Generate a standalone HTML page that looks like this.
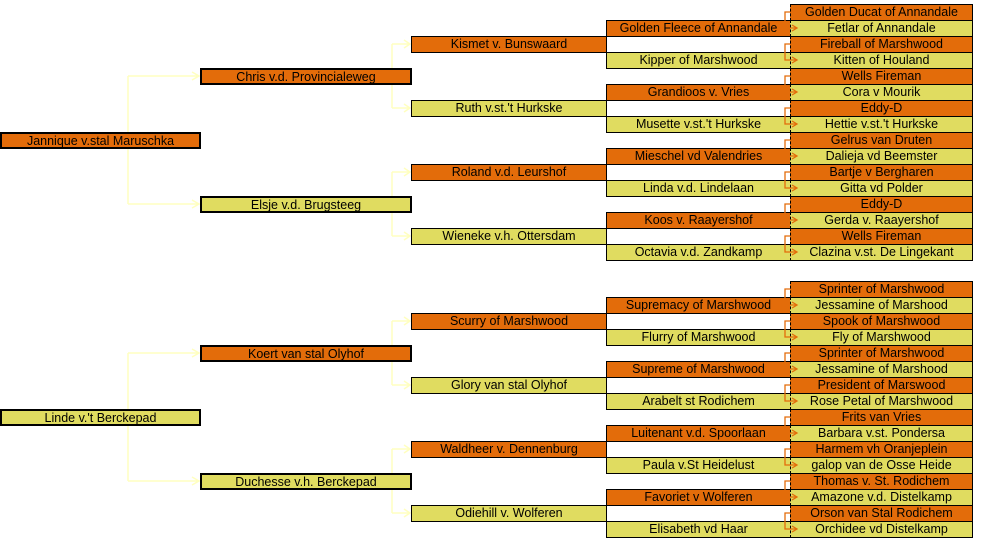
<!DOCTYPE html>
<html><head><meta charset="utf-8"><style>
body{margin:0;background:#fff;width:986px;height:542px;overflow:hidden;position:relative;font-family:"Liberation Sans",sans-serif;}
.b{position:absolute;box-sizing:border-box;height:17px;border:1px solid #000;font-size:12.5px;line-height:15px;text-align:center;white-space:nowrap;overflow:hidden;color:#000;}
.o{background:#e36c0a;}.y{background:#e0dc60;}
.g0{left:0;width:201px;border-width:2px;line-height:14px;}
.g1{left:200px;width:212px;border-width:2px;line-height:14px;}
.g2{left:411px;width:196px;}
.g3{left:606px;width:185px;}
.g4{left:790px;width:183px;border-left:1px dashed #000;}
svg{position:absolute;left:0;top:0;}
</style></head><body>
<svg width="986" height="542" style="z-index:0">
<g stroke="#ffffc0" stroke-width="1.5" fill="none">
<path d="M128 76V204M128 76H199M128 204H199M192 72L199 76L192 80M192 200L199 204L192 208"/>
<path d="M128 353V481M128 353H199M128 481H199M192 349L199 353L192 357M192 477L199 481L192 485"/>
<path d="M392 44V108M392 44H410M392 108H410M404 40L410 44L404 48M404 104L410 108L404 112"/>
<path d="M392 172V236M392 172H410M392 236H410M404 168L410 172L404 176M404 232L410 236L404 240"/>
<path d="M392 321V385M392 321H410M392 385H410M404 317L410 321L404 325M404 381L410 385L404 389"/>
<path d="M392 449V513M392 449H410M392 513H410M404 445L410 449L404 453M404 509L410 513L404 517"/>
</g></svg>

<div class="b g0 o" style="top:132px">Jannique v.stal Maruschka</div>
<div class="b g1 o" style="top:68px">Chris v.d. Provincialeweg</div>
<div class="b g1 y" style="top:196px">Elsje v.d. Brugsteeg</div>
<div class="b g2 o" style="top:36px">Kismet v. Bunswaard</div>
<div class="b g2 y" style="top:100px">Ruth v.st.'t Hurkske</div>
<div class="b g2 o" style="top:164px">Roland v.d. Leurshof</div>
<div class="b g2 y" style="top:228px">Wieneke v.h. Ottersdam</div>
<div class="b g3 o" style="top:20px">Golden Fleece of Annandale</div>
<div class="b g3 y" style="top:52px">Kipper of Marshwood</div>
<div class="b g3 o" style="top:84px">Grandioos v. Vries</div>
<div class="b g3 y" style="top:116px">Musette v.st.'t Hurkske</div>
<div class="b g3 o" style="top:148px">Mieschel vd Valendries</div>
<div class="b g3 y" style="top:180px">Linda v.d. Lindelaan</div>
<div class="b g3 o" style="top:212px">Koos v. Raayershof</div>
<div class="b g3 y" style="top:244px">Octavia v.d. Zandkamp</div>
<div class="b g4 o" style="top:4px">Golden Ducat of Annandale</div>
<div class="b g4 y" style="top:20px">Fetlar of Annandale</div>
<div class="b g4 o" style="top:36px">Fireball of Marshwood</div>
<div class="b g4 y" style="top:52px">Kitten of Houland</div>
<div class="b g4 o" style="top:68px">Wells Fireman</div>
<div class="b g4 y" style="top:84px">Cora v Mourik</div>
<div class="b g4 o" style="top:100px">Eddy-D</div>
<div class="b g4 y" style="top:116px">Hettie v.st.'t Hurkske</div>
<div class="b g4 o" style="top:132px">Gelrus van Druten</div>
<div class="b g4 y" style="top:148px">Dalieja vd Beemster</div>
<div class="b g4 o" style="top:164px">Bartje v Bergharen</div>
<div class="b g4 y" style="top:180px">Gitta vd Polder</div>
<div class="b g4 o" style="top:196px">Eddy-D</div>
<div class="b g4 y" style="top:212px">Gerda v. Raayershof</div>
<div class="b g4 o" style="top:228px">Wells Fireman</div>
<div class="b g4 y" style="top:244px">Clazina v.st. De Lingekant</div>

<div class="b g0 y" style="top:409px">Linde v.'t Berckepad</div>
<div class="b g1 o" style="top:345px">Koert van stal Olyhof</div>
<div class="b g1 y" style="top:473px">Duchesse v.h. Berckepad</div>
<div class="b g2 o" style="top:313px">Scurry of Marshwood</div>
<div class="b g2 y" style="top:377px">Glory van stal Olyhof</div>
<div class="b g2 o" style="top:441px">Waldheer v. Dennenburg</div>
<div class="b g2 y" style="top:505px">Odiehill v. Wolferen</div>
<div class="b g3 o" style="top:297px">Supremacy of Marshwood</div>
<div class="b g3 y" style="top:329px">Flurry of Marshwood</div>
<div class="b g3 o" style="top:361px">Supreme of Marshwood</div>
<div class="b g3 y" style="top:393px">Arabelt st Rodichem</div>
<div class="b g3 o" style="top:425px">Luitenant v.d. Spoorlaan</div>
<div class="b g3 y" style="top:457px">Paula v.St Heidelust</div>
<div class="b g3 o" style="top:489px">Favoriet v Wolferen</div>
<div class="b g3 y" style="top:521px">Elisabeth vd Haar</div>
<div class="b g4 o" style="top:281px">Sprinter of Marshwood</div>
<div class="b g4 y" style="top:297px">Jessamine of Marshood</div>
<div class="b g4 o" style="top:313px">Spook of Marshwood</div>
<div class="b g4 y" style="top:329px">Fly of Marshwood</div>
<div class="b g4 o" style="top:345px">Sprinter of Marshwood</div>
<div class="b g4 y" style="top:361px">Jessamine of Marshood</div>
<div class="b g4 o" style="top:377px">President of Marswood</div>
<div class="b g4 y" style="top:393px">Rose Petal of Marshwood</div>
<div class="b g4 o" style="top:409px">Frits van Vries</div>
<div class="b g4 y" style="top:425px">Barbara v.st. Pondersa</div>
<div class="b g4 o" style="top:441px">Harmem vh Oranjeplein</div>
<div class="b g4 y" style="top:457px">galop van de Osse Heide</div>
<div class="b g4 o" style="top:473px">Thomas v. St. Rodichem</div>
<div class="b g4 y" style="top:489px">Amazone v.d. Distelkamp</div>
<div class="b g4 o" style="top:505px">Orson van Stal Rodichem</div>
<div class="b g4 y" style="top:521px">Orchidee vd Distelkamp</div>

<svg width="986" height="542" style="z-index:2">
<g stroke="#e36c0a" stroke-width="1.3" fill="none">
<path d="M790 12H785V28H796M792 25L797 28L792 31"/>
<path d="M790 44H785V60H796M792 57L797 60L792 63"/>
<path d="M790 76H785V92H796M792 89L797 92L792 95"/>
<path d="M790 108H785V124H796M792 121L797 124L792 127"/>
<path d="M790 140H785V156H796M792 153L797 156L792 159"/>
<path d="M790 172H785V188H796M792 185L797 188L792 191"/>
<path d="M790 204H785V220H796M792 217L797 220L792 223"/>
<path d="M790 236H785V252H796M792 249L797 252L792 255"/>
<path d="M790 289H785V305H796M792 302L797 305L792 308"/>
<path d="M790 321H785V337H796M792 334L797 337L792 340"/>
<path d="M790 353H785V369H796M792 366L797 369L792 372"/>
<path d="M790 385H785V401H796M792 398L797 401L792 404"/>
<path d="M790 417H785V433H796M792 430L797 433L792 436"/>
<path d="M790 449H785V465H796M792 462L797 465L792 468"/>
<path d="M790 481H785V497H796M792 494L797 497L792 500"/>
<path d="M790 513H785V529H796M792 526L797 529L792 532"/>
</g></svg>
</body></html>
